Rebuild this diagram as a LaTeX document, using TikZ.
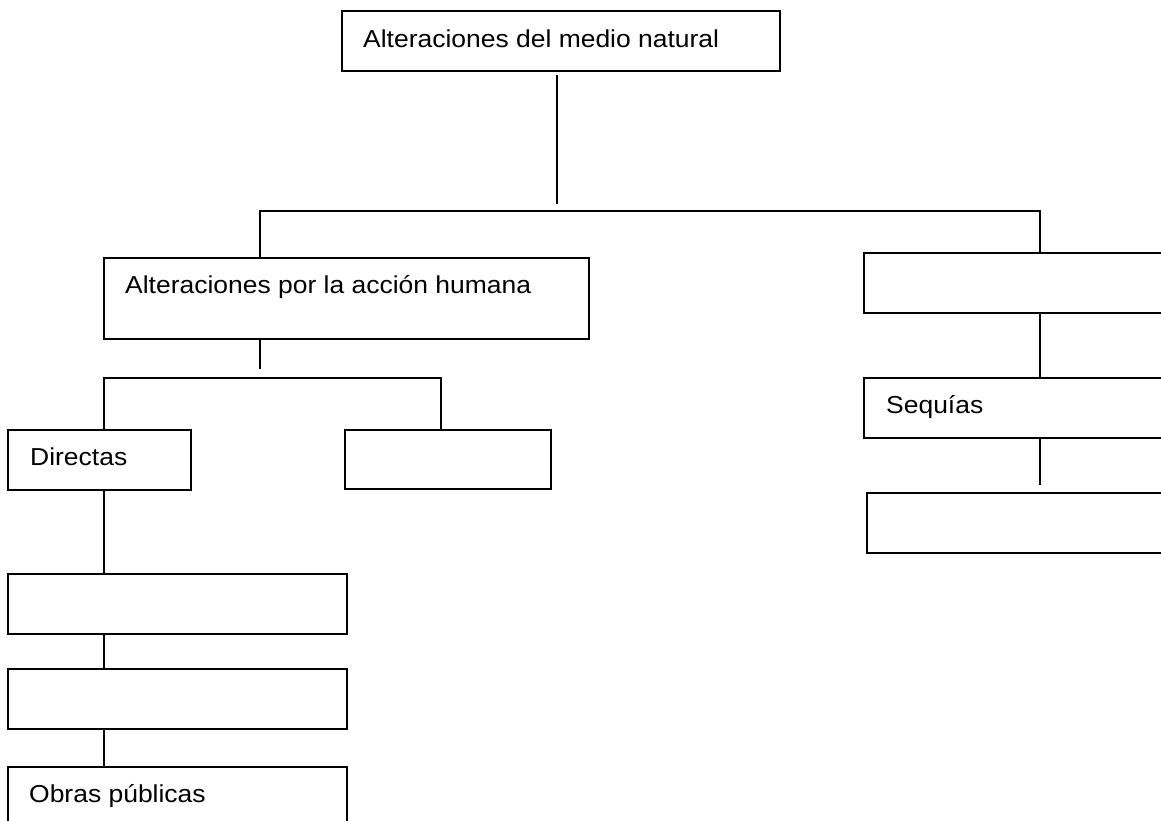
\documentclass[tikz,border=0pt]{standalone}
\usepackage{fontspec}
\setmainfont{Liberation Sans}[FakeStretch=1.08]
\usetikzlibrary{calc}
\tikzset{
  box/.style={draw=black, line width=1.7pt, rectangle, inner sep=0pt, fill=white},
  lbl/.style={anchor=base west, inner sep=0pt, font=\fontsize{24.5}{29}\selectfont},
  conn/.style={draw=black, line width=1.6pt}
}
\begin{document}
\begin{tikzpicture}[x=1pt,y=-1pt]
\useasboundingbox (0,0) rectangle (1161,820);
% boxes
\node[box, minimum width=438pt, minimum height=60pt] (top) at (561,41) {};
\node[box, minimum width=485pt, minimum height=81pt] (hum) at (346.5,298.5) {};
\node[box, minimum width=311pt, minimum height=60pt] (rnat) at (1019.5,283) {};
\node[box, minimum width=311pt, minimum height=60pt] (seq) at (1019.5,408) {};
\node[box, minimum width=308pt, minimum height=60pt] (rbot) at (1021,523) {};
\node[box, minimum width=183pt, minimum height=60pt] (dir) at (99.5,460) {};
\node[box, minimum width=206pt, minimum height=59pt] (ind) at (448,459.5) {};
\node[box, minimum width=339pt, minimum height=60pt] (b1) at (177.5,604) {};
\node[box, minimum width=339pt, minimum height=60pt] (b2) at (177.5,699) {};
\node[box, minimum width=339pt, minimum height=63pt] (obras) at (177.5,798.5) {};
% texts
\node[lbl] (t1) at (363,47) {Alteraciones del medio natural};
\node[lbl] (t2) at (125,293) {Alteraciones por la acción humana};
\node[lbl] (tseq) at (886,413) {Sequías};
\node[lbl] (tdir) at (30,465) {Directas};
\node[lbl] (tob) at (29,802) {Obras públicas};
% junctions
\coordinate (j1) at (557,204);
\coordinate (jl) at (260,211);
\coordinate (jr) at (1040,211);
\coordinate (h2) at (260,369);
\coordinate (jdl) at (104,378);
\coordinate (jdr) at (441,378);
\coordinate (rend) at (1040,485);
% connectors
\draw[conn] ($(top.south -| j1)+(0,3)$) -- (j1);
\draw[conn] (jl |- hum.north) -- (jl) -- (jr) -- (jr |- rnat.north);
\draw[conn] (h2 |- hum.south) -- (h2);
\draw[conn] (jdl |- dir.north) -- (jdl) -- (jdr) -- (jdr |- ind.north);
\draw[conn] (jdl |- dir.south) -- (jdl |- b1.north);
\draw[conn] (jdl |- b1.south) -- (jdl |- b2.north);
\draw[conn] (jdl |- b2.south) -- (jdl |- obras.north);
\draw[conn] (jr |- rnat.south) -- (jr |- seq.north);
\draw[conn] (jr |- seq.south) -- (rend);
\end{tikzpicture}
\end{document}
